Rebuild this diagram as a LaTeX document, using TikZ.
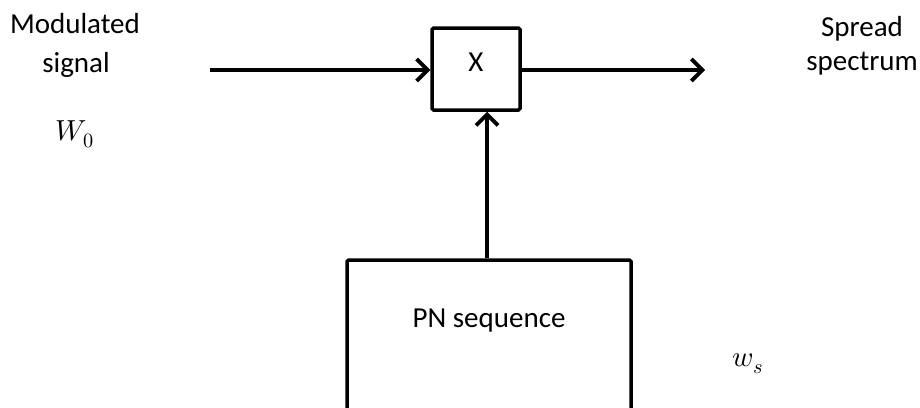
\documentclass[tikz,border=0pt]{standalone}
\usepackage{fontspec}
\usepackage{unicode-math}
\setmainfont{Carlito}
\setmathfont{Latin Modern Math}
\usetikzlibrary{arrows.meta}
\begin{document}
\begin{tikzpicture}[x=1pt,y=1pt,
  every node/.style={font=\fontsize{29}{34}\selectfont},
  blockbox/.style={draw=black, line width=3.5pt, rounded corners=1.5pt, fill=white},
  flow/.style={line width=3.8pt, -{Straight Barb[length=11pt,width=22pt,line width=3.8pt]}},
  lbl/.style={align=center, inner sep=0pt}]
\useasboundingbox (0,0) rectangle (920,-407);
\clip (0,0) rectangle (920,-407);
% blocks
\node[blockbox, minimum width=88, minimum height=82, inner sep=0pt] (mult) at (476,-69) {};
\node[lbl] (x) at (476,-62) {X};
\node[blockbox, minimum width=284, minimum height=200, inner sep=0pt] (pn) at (489,-360) {};
\node[lbl] (pnt) at (489,-321) {PN sequence};
% labels
\node[lbl, anchor=base] (mod) at (75,-33) {Modulated};
\node[lbl, anchor=base] (sig) at (76,-72) {signal};
\node[lbl, anchor=base] (w0) at (75,-140) {$W_0$};
\node[lbl, anchor=base] (spr) at (862,-36) {Spread};
\node[lbl, anchor=base] (spec) at (862,-70) {spectrum};
\node[lbl, anchor=base] (ws) at (748,-366) {$w_s$};
% connectors
\coordinate (in) at (210,-70);
\coordinate (out) at (705,-70);
\draw[flow] (in) -- (in -| mult.west);
\draw[flow] (mult.east |- out) -- (out);
\draw[flow] (pn.north -| 487,0) -- (mult.south -| 487,0);
\end{tikzpicture}
\end{document}
